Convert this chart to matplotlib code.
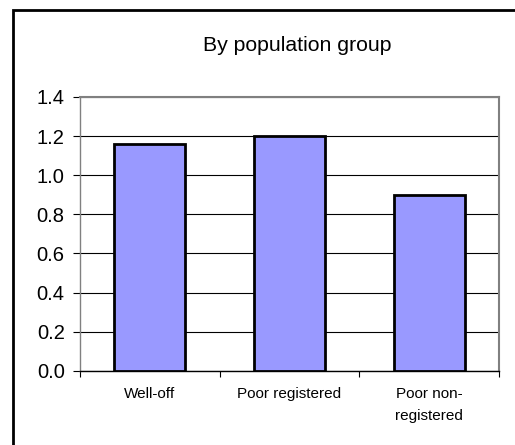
import matplotlib
matplotlib.use("Agg")
import matplotlib.pyplot as plt
from matplotlib.patches import Rectangle
import numpy as np

categories = ["Well-off", "Poor registered", "Poor non-\nregistered"]
values = [1.16, 1.20, 0.90]
yticks = [0.0, 0.2, 0.4, 0.6, 0.8, 1.0, 1.2, 1.4]
title = "By population group"

plt.rcParams['font.family'] = ['Liberation Sans', 'DejaVu Sans']

W, H = 515, 445
fig = plt.figure(figsize=(W / 100, H / 100), dpi=100)

# outer chart frame (left and top edges visible)
fig.patches.append(Rectangle((13 / W, -0.1), 1.2, (H - 10) / H + 0.1,
                             transform=fig.transFigure, fill=False,
                             edgecolor='black', linewidth=2))

ax = fig.add_axes([80 / W, (H - 370.7) / H, (499 - 80) / W, (370.7 - 97) / H])
x = np.arange(len(categories))
ax.bar(x, values, width=0.51, color='#9999FF', edgecolor='black', linewidth=2, zorder=3)

ax.set_xlim(-0.5, len(categories) - 0.5)
ax.set_ylim(0, 1.4)
ax.set_yticks(yticks)
ax.set_yticklabels([f"{v:.1f}" for v in yticks], fontsize=14.5)
ax.yaxis.grid(True, color='black', linewidth=0.8, zorder=1)

ax.set_xticks(np.arange(len(categories) + 1) - 0.5)
ax.set_xticklabels([])
ax.set_xticks(x, minor=True)
ax.set_xticklabels(categories, minor=True, fontsize=11, linespacing=1.7, va='top')
ax.tick_params(axis='x', which='minor', length=0, pad=12)
ax.tick_params(axis='x', which='major', length=4, width=0.8, color='black', direction='out')
ax.tick_params(axis='y', length=5, width=0.8, color='black', direction='out', pad=6)

for s in ['top', 'right']:
    ax.spines[s].set_color('#808080')
    ax.spines[s].set_linewidth(1.5)
ax.spines['left'].set_color('#808080')
ax.spines['left'].set_linewidth(1)
ax.spines['bottom'].set_color('black')
ax.spines['bottom'].set_linewidth(1)

fig.text(297.5 / W, 1 - 51 / H, title, ha='center', va='baseline', fontsize=15.3)

fig.savefig("out.png", dpi=100)
